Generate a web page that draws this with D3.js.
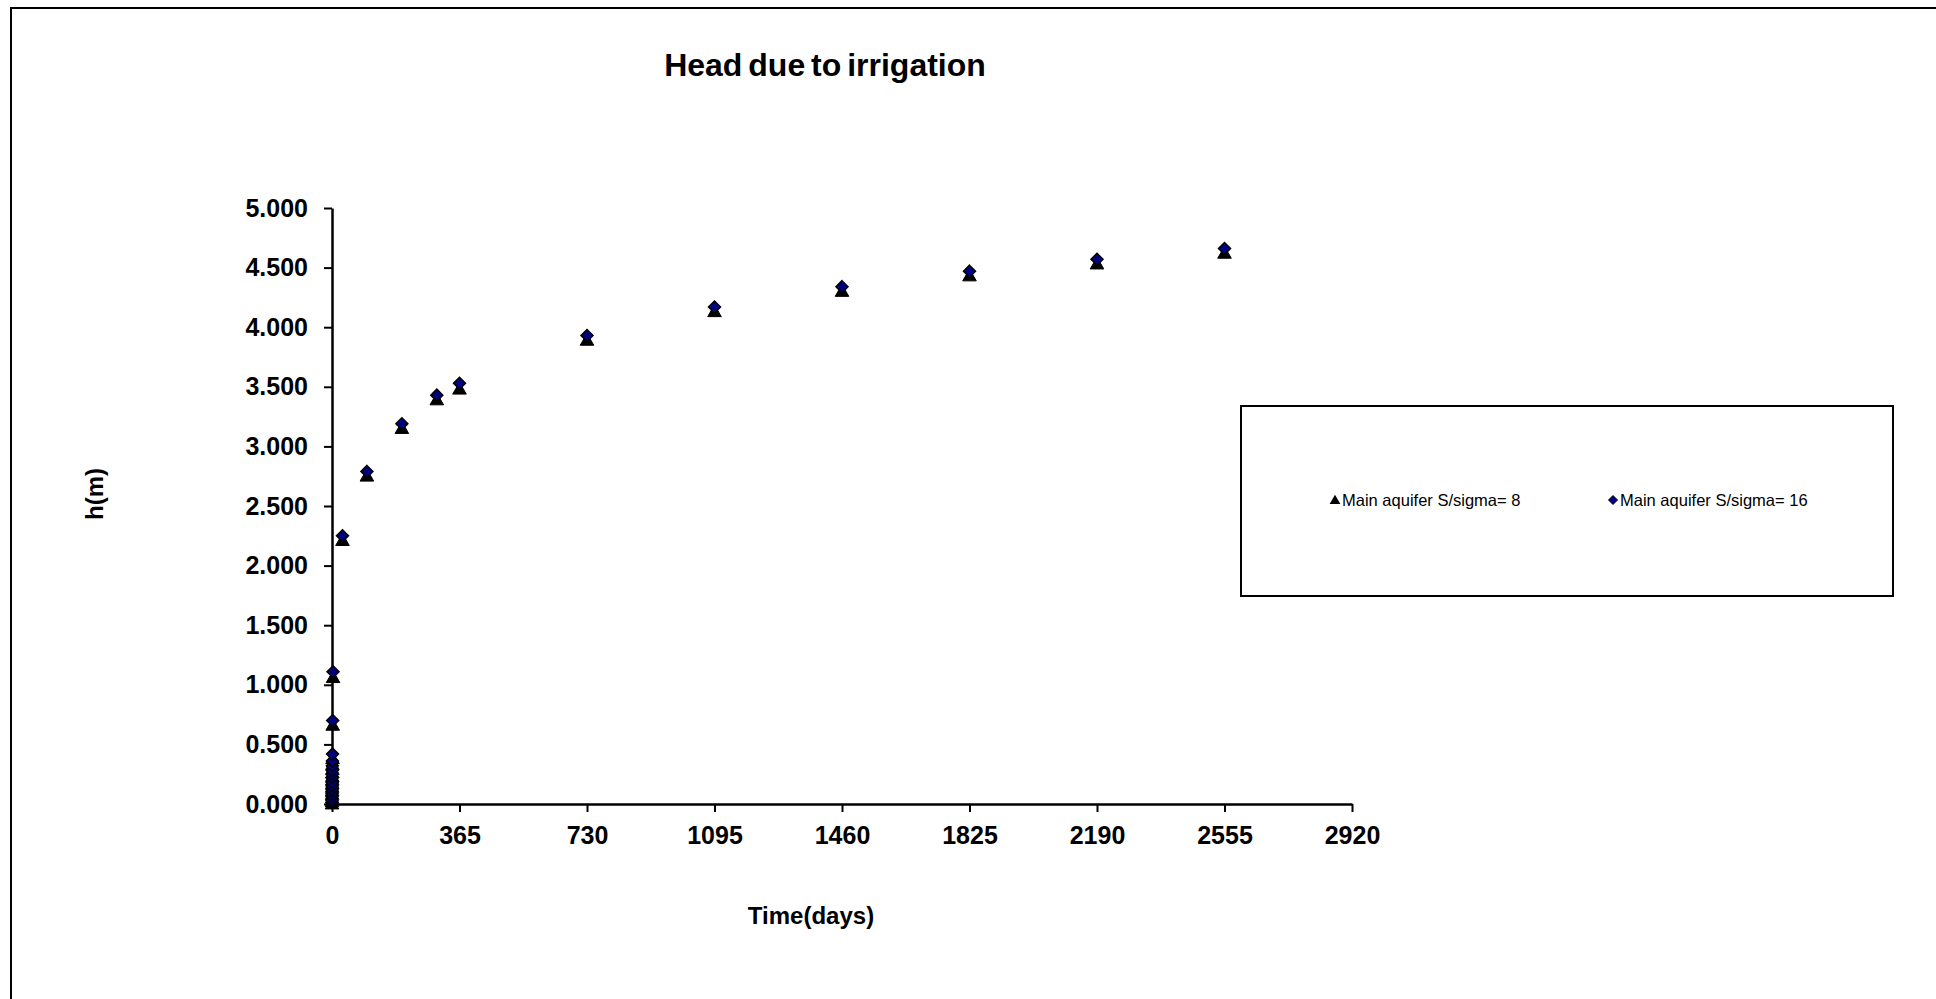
<!DOCTYPE html>
<html>
<head>
<meta charset="utf-8">
<script src="https://cdn.jsdelivr.net/npm/d3@7"></script>
<style>
  body { margin: 0; background: #fff; }
  svg { font-family: "Liberation Sans", Arial, sans-serif; }
</style>
</head>
<body>
<div id="chart"></div>
<script>
// time in days
const timeDays = [0.05, 0.1, 0.2, 0.3, 0.4, 0.5, 0.6, 0.7, 0.8, 0.9, 1, 1.2, 1.5, 2, 3, 30, 100, 200, 300, 365, 730, 1095, 1460, 1825, 2190, 2555]
// head h(m), S/sigma = 8 (triangles)
const headS8 = [0.000, 0.020, 0.050, 0.080, 0.110, 0.140, 0.170, 0.200, 0.230, 0.260, 0.290, 0.330, 0.380, 0.660, 1.060, 2.210, 2.750, 3.150, 3.390, 3.480, 3.890, 4.130, 4.300, 4.430, 4.530, 4.620]
// head h(m), S/sigma = 16 (diamonds)
const headS16 = [0.010, 0.030, 0.060, 0.090, 0.120, 0.150, 0.180, 0.220, 0.250, 0.280, 0.320, 0.360, 0.420, 0.700, 1.110, 2.250, 2.790, 3.190, 3.430, 3.530, 3.930, 4.170, 4.340, 4.470, 4.570, 4.660]
const xTicks = [0, 365, 730, 1095, 1460, 1825, 2190, 2555, 2920]
const yTicks = [0, 0.5, 1, 1.5, 2, 2.5, 3, 3.5, 4, 4.5, 5]
const seriesNames = ["Main aquifer S/sigma= 8", "Main aquifer S/sigma= 16"]

const width = 1936, height = 999
const plot = { left: 332, right: 1352, top: 208, bottom: 804 }

const svg = d3.select("#chart").append("svg")
    .attr("width", width)
    .attr("height", height)

// outer chart frame (runs off the right and bottom edges)
svg.append("rect")
    .attr("x", 11).attr("y", 8)
    .attr("width", 1960).attr("height", 1020)
    .attr("fill", "none").attr("stroke", "#000").attr("stroke-width", 2)

const x = d3.scaleLinear().domain([0, 2920]).range([plot.left, plot.right])
const y = d3.scaleLinear().domain([0, 5]).range([plot.bottom, plot.top])

svg.append("text")
    .attr("x", 825).attr("y", 76)
    .attr("text-anchor", "middle")
    .style("font-size", "32px").style("font-weight", "bold")
    .style("word-spacing", "-3px")
    .text("Head due to irrigation")

// axes
const xAxis = svg.append("g")
    .attr("transform", `translate(0,${plot.bottom})`)
    .call(d3.axisBottom(x).tickValues(xTicks).tickFormat(d3.format("d")).tickSize(8).tickSizeOuter(0).tickPadding(14))
const yAxis = svg.append("g")
    .attr("transform", `translate(${plot.left},0)`)
    .call(d3.axisLeft(y).tickValues(yTicks).tickFormat(d3.format(".3f")).tickSize(8).tickSizeOuter(0).tickPadding(16))

;[xAxis, yAxis].forEach(a => {
    a.select(".domain").attr("stroke", "#000").attr("stroke-width", 2.5)
    a.selectAll(".tick line").attr("stroke", "#000").attr("stroke-width", 2)
    a.selectAll(".tick text")
        .attr("fill", "#000")
        .style("font-size", "25px").style("font-weight", "bold")
        .style("font-family", "'Liberation Sans', Arial, sans-serif")
})

svg.append("text")
    .attr("x", 811).attr("y", 924)
    .attr("text-anchor", "middle")
    .style("font-size", "24px").style("font-weight", "bold")
    .text("Time(days)")

svg.append("text")
    .attr("transform", "translate(103,494) rotate(-90)")
    .attr("text-anchor", "middle")
    .style("font-size", "24px").style("font-weight", "bold")
    .text("h(m)")

const triangle = d3.symbol().type(d3.symbolTriangle).size(80)
const diamond = (s) => `M0,${-s}L${s},0L0,${s}L${-s},0Z`

const pts8 = timeDays.map((t, i) => ({ t, h: headS8[i] }))
const pts16 = timeDays.map((t, i) => ({ t, h: headS16[i] }))

svg.append("g").selectAll("path")
    .data(pts8)
    .enter().append("path")
    .attr("d", triangle)
    .attr("transform", d => `translate(${x(d.t)},${y(d.h) + 1})`)
    .attr("fill", "#000")
    .attr("stroke", "#000").attr("stroke-width", 1)

svg.append("g").selectAll("path")
    .data(pts16)
    .enter().append("path")
    .attr("d", diamond(6))
    .attr("transform", d => `translate(${x(d.t)},${y(d.h)})`)
    .attr("fill", "#000080")
    .attr("stroke", "#000").attr("stroke-width", 1.5)

// legend
const legend = svg.append("g")
legend.append("rect")
    .attr("x", 1241).attr("y", 406)
    .attr("width", 652).attr("height", 190)
    .attr("fill", "#fff").attr("stroke", "#000").attr("stroke-width", 2)

const legendItems = [
    { name: seriesNames[0], mx: 1335, shape: "tri" },
    { name: seriesNames[1], mx: 1613, shape: "dia" }
]
legendItems.forEach(it => {
    if (it.shape === "tri") {
        legend.append("path")
            .attr("d", d3.symbol().type(d3.symbolTriangle).size(50))
            .attr("transform", `translate(${it.mx},501)`)
            .attr("fill", "#000")
    } else {
        legend.append("path")
            .attr("d", diamond(4.5))
            .attr("transform", `translate(${it.mx},500)`)
            .attr("fill", "#000080").attr("stroke", "#000").attr("stroke-width", 1)
    }
    legend.append("text")
        .attr("x", it.mx + 7).attr("y", 506)
        .style("font-size", "16.5px")
        .text(it.name)
})
</script>
</body>
</html>
